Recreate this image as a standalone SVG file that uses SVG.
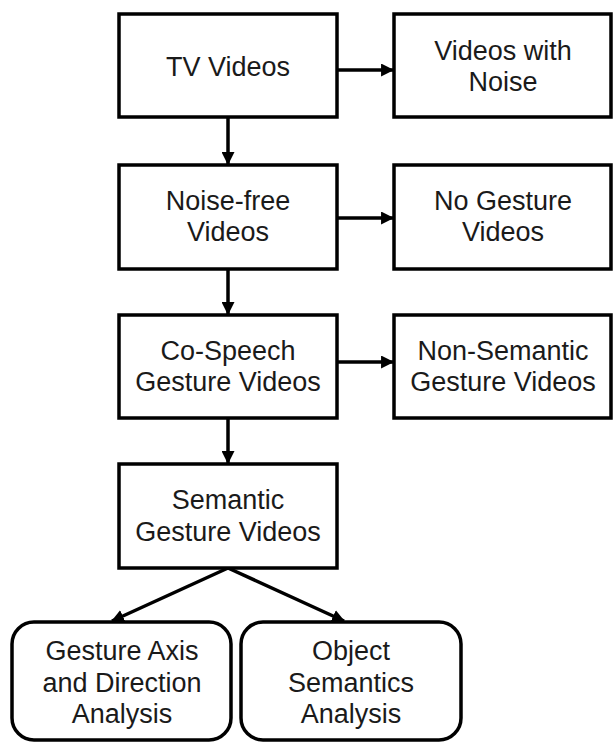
<svg xmlns="http://www.w3.org/2000/svg" width="613" height="742" viewBox="0 0 613 742">
<style>
.box{fill:#fff;stroke:#000;stroke-width:3.5}
.t{font-family:"Liberation Sans",Arial,sans-serif;font-size:27px;fill:#1a1a1a;text-anchor:middle}
.c{stroke:#000;stroke-width:3.5;fill:none}
</style>
<defs>
<marker id="a" viewBox="0 0 12 12" refX="11" refY="6" markerWidth="13" markerHeight="13" markerUnits="userSpaceOnUse" orient="auto">
<path d="M0,0 L12,6 L0,12 z" fill="#000"/>
</marker>
</defs>
<rect width="613" height="742" fill="#fff"/>
<g id="connectors">
<line class="c" x1="338" y1="70" x2="393" y2="70" marker-end="url(#a)"/>
<line class="c" x1="338" y1="218" x2="393" y2="218" marker-end="url(#a)"/>
<line class="c" x1="338" y1="362" x2="393" y2="362" marker-end="url(#a)"/>
<line class="c" x1="228" y1="118" x2="228" y2="164" marker-end="url(#a)"/>
<line class="c" x1="228" y1="270" x2="228" y2="314" marker-end="url(#a)"/>
<line class="c" x1="228" y1="419" x2="228" y2="463" marker-end="url(#a)"/>
<line class="c" x1="228" y1="568" x2="112" y2="621" marker-end="url(#a)"/>
<line class="c" x1="228" y1="568" x2="344" y2="621" marker-end="url(#a)"/>
</g>
<g id="tv">
<rect class="box" x="119" y="14" width="218" height="103"/>
<text class="t" x="228" y="76">TV Videos</text>
</g>
<g id="noise">
<rect class="box" x="394" y="14" width="217" height="103"/>
<text class="t" x="503" y="60">Videos with</text>
<text class="t" x="503" y="91">Noise</text>
</g>
<g id="noisefree">
<rect class="box" x="119" y="165" width="218" height="104"/>
<text class="t" x="228" y="210">Noise-free</text>
<text class="t" x="228" y="241">Videos</text>
</g>
<g id="nogesture">
<rect class="box" x="394" y="165" width="217" height="104"/>
<text class="t" x="503" y="210">No Gesture</text>
<text class="t" x="503" y="241">Videos</text>
</g>
<g id="cospeech">
<rect class="box" x="119" y="315" width="218" height="103"/>
<text class="t" x="228" y="360">Co-Speech</text>
<text class="t" x="228" y="391">Gesture Videos</text>
</g>
<g id="nonsemantic">
<rect class="box" x="394" y="315" width="217" height="103"/>
<text class="t" x="503" y="360">Non-Semantic</text>
<text class="t" x="503" y="391">Gesture Videos</text>
</g>
<g id="semantic">
<rect class="box" x="119" y="464" width="218" height="104"/>
<text class="t" x="228" y="509">Semantic</text>
<text class="t" x="228" y="541">Gesture Videos</text>
</g>
<g id="axis">
<rect class="box" x="12" y="622" width="219" height="118" rx="22"/>
<text class="t" x="122" y="660">Gesture Axis</text>
<text class="t" x="122" y="692">and Direction</text>
<text class="t" x="122" y="723">Analysis</text>
</g>
<g id="object">
<rect class="box" x="241" y="622" width="220" height="118" rx="22"/>
<text class="t" x="351" y="660">Object</text>
<text class="t" x="351" y="692">Semantics</text>
<text class="t" x="351" y="723">Analysis</text>
</g>
</svg>
